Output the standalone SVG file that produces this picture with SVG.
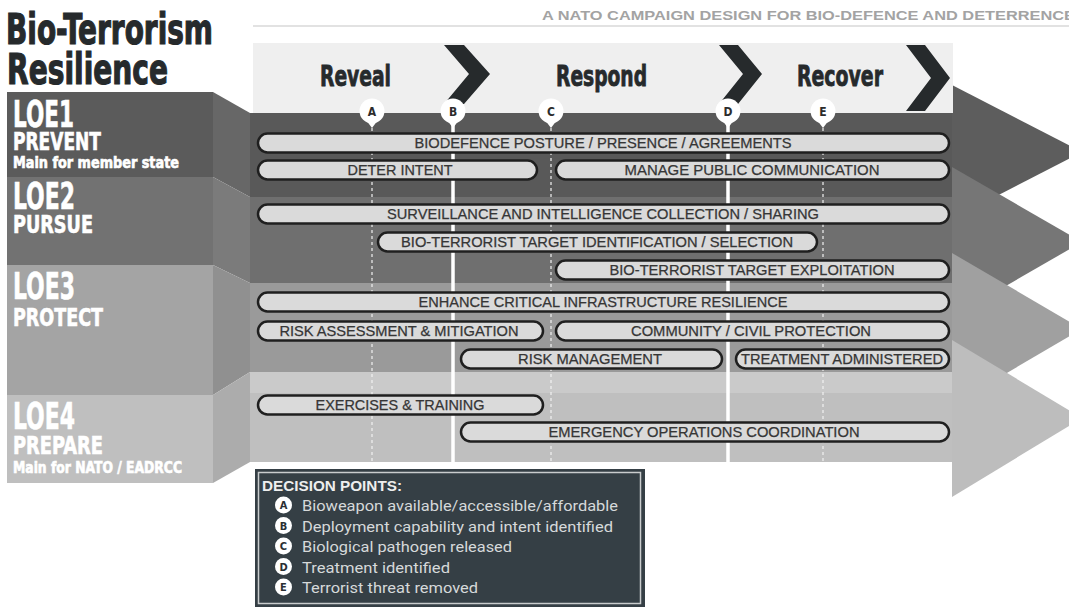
<svg xmlns="http://www.w3.org/2000/svg" width="1069" height="607" viewBox="0 0 1069 607">
<style>
.cond{font-family:"DejaVu Sans Condensed","DejaVu Sans",sans-serif;font-weight:bold;font-stretch:condensed}
.title{fill:#262a2c;stroke:#262a2c;stroke-width:1.2}
.ph{fill:#262a2c;stroke:#262a2c;stroke-width:0.8}
.loe{fill:#ffffff;stroke:#ffffff;stroke-width:0.6}
.pill rect{fill:#dadada;stroke:#1f1f1f;stroke-width:2.5}
.pill text{font-family:"Liberation Sans",Arial,sans-serif;font-size:14px;fill:#363636;stroke:#363636;stroke-width:0.25;text-anchor:middle}
.dp{fill:#ffffff}
.dpl{font-family:"DejaVu Sans Condensed","DejaVu Sans",sans-serif;font-weight:bold;font-size:12px;fill:#2c2c2c;text-anchor:middle}
.solid{stroke:#ffffff;stroke-width:3.5}
.dot{stroke:#f2f2f2;stroke-width:1.5;stroke-dasharray:3 3;opacity:0.8}
.item{font-family:Roboto,"Noto Sans",sans-serif;font-size:15px;fill:#d6d9da}
.badge circle{fill:#ffffff}
.badge text{font-family:"DejaVu Sans Condensed","DejaVu Sans",sans-serif;font-weight:bold;font-size:11px;fill:#2a2f33;text-anchor:middle}
</style>
<rect width="1069" height="607" fill="#ffffff"/>

<!-- header -->
<g id="header">
  <text x="542" y="20" font-family="'Liberation Sans',Arial,sans-serif" font-weight="bold" font-size="13.5" fill="#a3a3a3" textLength="533" lengthAdjust="spacingAndGlyphs">A NATO CAMPAIGN DESIGN FOR BIO-DEFENCE AND DETERRENCE</text>
  <line x1="253" y1="26" x2="1069" y2="26" stroke="#d8d8d8" stroke-width="1.5"/>
</g>

<g id="title">
  <text class="cond title" x="6" y="44" font-size="43" textLength="207" lengthAdjust="spacingAndGlyphs">Bio-Terrorism</text>
  <text class="cond title" x="7" y="84" font-size="43" textLength="161" lengthAdjust="spacingAndGlyphs">Resilience</text>
</g>

<!-- arrowheads on the right (upper ones behind) -->
<g id="arrowheads">
  <polygon points="952,85 1082,152 952,219" fill="#5d5d5d"/>
  <polygon points="952,167 1082,242 952,317" fill="#767676"/>
  <polygon points="952,253 1082,329 952,405" fill="#a0a0a0"/>
  <polygon points="952,340 1082,418 952,497" fill="#bdbdbd"/>
</g>

<!-- phase header band -->
<g id="phases">
  <rect x="253" y="43" width="700" height="70" fill="#efefef"/>
  <text class="cond ph" x="320" y="86" font-size="28" textLength="71" lengthAdjust="spacingAndGlyphs">Reveal</text>
  <text class="cond ph" x="556" y="86" font-size="28" textLength="91" lengthAdjust="spacingAndGlyphs">Respond</text>
  <text class="cond ph" x="797" y="86" font-size="28" textLength="86" lengthAdjust="spacingAndGlyphs">Recover</text>
  <polygon points="444,45 464,45 490,74 464,104 444,104 469,74" fill="#262a2c"/>
  <polygon points="719,45 738,45 762,74 738,104 719,104 743,74" fill="#262a2c"/>
  <polygon points="906,45 925,45 950,78 925,111 906,111 931,78" fill="#262a2c"/>
</g>

<!-- main panel rows -->
<g id="panel">
  <rect x="250" y="113" width="702" height="84" fill="#595959"/>
  <rect x="250" y="197" width="702" height="86" fill="#6f6f6f"/>
  <rect x="250" y="283" width="702" height="89" fill="#9a9a9a"/>
  <rect x="250" y="372" width="702" height="90" fill="#bfbfbf"/>
  <rect x="250" y="372" width="702" height="21" fill="#cacaca"/>
</g>

<!-- LOE label blocks -->
<g id="loe1">
  <rect x="7" y="92" width="206" height="85" fill="#5b5b5b"/>
  <polygon points="213,92 250,113 250,197 213,177" fill="#676767"/>
  <text class="cond loe" x="13" y="127" font-size="38" textLength="61" lengthAdjust="spacingAndGlyphs">LOE1</text>
  <text class="cond loe" x="13" y="150" font-size="24" textLength="88" lengthAdjust="spacingAndGlyphs">PREVENT</text>
  <text class="cond loe" x="13" y="168" font-size="15" textLength="166" lengthAdjust="spacingAndGlyphs">Main for member state</text>
</g>
<g id="loe2">
  <rect x="7" y="177" width="206" height="88" fill="#727272"/>
  <polygon points="213,177 250,197 250,283 213,265" fill="#7b7b7b"/>
  <text class="cond loe" x="13" y="209" font-size="38" textLength="62" lengthAdjust="spacingAndGlyphs">LOE2</text>
  <text class="cond loe" x="13" y="233" font-size="24" textLength="80" lengthAdjust="spacingAndGlyphs">PURSUE</text>
</g>
<g id="loe3">
  <rect x="7" y="265" width="206" height="130" fill="#a4a4a4"/>
  <polygon points="213,265 250,283 250,372 213,395" fill="#909090"/>
  <text class="cond loe" x="13" y="299" font-size="38" textLength="62" lengthAdjust="spacingAndGlyphs">LOE3</text>
  <text class="cond loe" x="13" y="326" font-size="24" textLength="90" lengthAdjust="spacingAndGlyphs">PROTECT</text>
</g>
<g id="loe4">
  <rect x="7" y="395" width="206" height="88" fill="#bfbfbf"/>
  <polygon points="213,395 250,372 250,462 213,483" fill="#acacac"/>
  <text class="cond loe" x="13" y="429" font-size="38" textLength="62" lengthAdjust="spacingAndGlyphs">LOE4</text>
  <text class="cond loe" x="13" y="454" font-size="24" textLength="90" lengthAdjust="spacingAndGlyphs">PREPARE</text>
  <text class="cond loe" x="13" y="473" font-size="15" textLength="169" lengthAdjust="spacingAndGlyphs">Main for NATO / EADRCC</text>
</g>

<!-- decision lines -->
<g id="connectors">
  <line class="dot" x1="372" y1="122" x2="372" y2="462"/>
  <line class="solid" x1="453" y1="122" x2="453" y2="462"/>
  <line class="dot" x1="551" y1="122" x2="551" y2="462"/>
  <line class="solid" x1="728" y1="122" x2="728" y2="462"/>
  <line class="dot" x1="823" y1="122" x2="823" y2="462"/>
</g>

<!-- decision point markers -->
<g id="marker-a"><circle class="dp" cx="372" cy="111" r="12.5"/><polygon class="dp" points="366,120 378,120 372,128"/><text class="dpl" x="372" y="115.5">A</text></g>
<g id="marker-b"><circle class="dp" cx="453" cy="111" r="12.5"/><polygon class="dp" points="447,120 459,120 453,128"/><text class="dpl" x="453" y="115.5">B</text></g>
<g id="marker-c"><circle class="dp" cx="551" cy="111" r="12.5"/><polygon class="dp" points="545,120 557,120 551,128"/><text class="dpl" x="551" y="115.5">C</text></g>
<g id="marker-d"><circle class="dp" cx="728" cy="111" r="12.5"/><polygon class="dp" points="722,120 734,120 728,128"/><text class="dpl" x="728" y="115.5">D</text></g>
<g id="marker-e"><circle class="dp" cx="823" cy="111" r="12.5"/><polygon class="dp" points="817,120 829,120 823,128"/><text class="dpl" x="823" y="115.5">E</text></g>

<!-- activity pills -->
<g id="p-biodefence" class="pill"><rect x="258" y="133.5" width="691" height="19" rx="9.5"/><text x="603" y="148" textLength="377" lengthAdjust="spacingAndGlyphs">BIODEFENCE POSTURE / PRESENCE / AGREEMENTS</text></g>
<g id="p-deter" class="pill"><rect x="258" y="160.5" width="279" height="19" rx="9.5"/><text x="400" y="175" textLength="105" lengthAdjust="spacingAndGlyphs">DETER INTENT</text></g>
<g id="p-manage" class="pill"><rect x="556" y="160.5" width="393" height="19" rx="9.5"/><text x="752" y="175" textLength="255" lengthAdjust="spacingAndGlyphs">MANAGE PUBLIC COMMUNICATION</text></g>
<g id="p-surveillance" class="pill"><rect x="258" y="204.5" width="691" height="19" rx="9.5"/><text x="603" y="219" textLength="432" lengthAdjust="spacingAndGlyphs">SURVEILLANCE AND INTELLIGENCE COLLECTION / SHARING</text></g>
<g id="p-target-id" class="pill"><rect x="378" y="232.5" width="439" height="19" rx="9.5"/><text x="597" y="247" textLength="392" lengthAdjust="spacingAndGlyphs">BIO-TERRORIST TARGET IDENTIFICATION / SELECTION</text></g>
<g id="p-exploitation" class="pill"><rect x="556" y="260.5" width="393" height="19" rx="9.5"/><text x="752" y="275" textLength="285" lengthAdjust="spacingAndGlyphs">BIO-TERRORIST TARGET EXPLOITATION</text></g>
<g id="p-enhance" class="pill"><rect x="258" y="292.5" width="691" height="19" rx="9.5"/><text x="603" y="307" textLength="369" lengthAdjust="spacingAndGlyphs">ENHANCE CRITICAL INFRASTRUCTURE RESILIENCE</text></g>
<g id="p-risk-assessment" class="pill"><rect x="258" y="321.5" width="285" height="19" rx="9.5"/><text x="399" y="336" textLength="239" lengthAdjust="spacingAndGlyphs">RISK ASSESSMENT &amp; MITIGATION</text></g>
<g id="p-community" class="pill"><rect x="556" y="321.5" width="393" height="19" rx="9.5"/><text x="751" y="336" textLength="240" lengthAdjust="spacingAndGlyphs">COMMUNITY / CIVIL PROTECTION</text></g>
<g id="p-risk-management" class="pill"><rect x="461" y="349.5" width="261" height="19" rx="9.5"/><text x="590" y="364" textLength="144" lengthAdjust="spacingAndGlyphs">RISK MANAGEMENT</text></g>
<g id="p-treatment" class="pill"><rect x="736" y="349.5" width="213" height="19" rx="9.5"/><text x="842" y="364" textLength="202" lengthAdjust="spacingAndGlyphs">TREATMENT ADMINISTERED</text></g>
<g id="p-exercises" class="pill"><rect x="258" y="395.5" width="285" height="19" rx="9.5"/><text x="400" y="410" textLength="169" lengthAdjust="spacingAndGlyphs">EXERCISES &amp; TRAINING</text></g>
<g id="p-emergency" class="pill"><rect x="461" y="422.5" width="488" height="19" rx="9.5"/><text x="704" y="437" textLength="311" lengthAdjust="spacingAndGlyphs">EMERGENCY OPERATIONS COORDINATION</text></g>

<!-- decision points legend -->
<g id="legend">
  <rect x="255" y="469" width="390" height="138" fill="#353f45"/>
  <rect x="258.5" y="472.5" width="382" height="131" fill="none" stroke="#c9cccd" stroke-width="1.5"/>
  <text x="262" y="491" font-family="'Liberation Sans',Arial,sans-serif" font-weight="bold" font-size="14" fill="#eeeeee" textLength="140" lengthAdjust="spacingAndGlyphs">DECISION POINTS:</text>
  <g class="badge"><circle cx="283.5" cy="505" r="8.5"/><text x="283.5" y="509">A</text></g>
  <text class="item" x="302" y="511" textLength="316" lengthAdjust="spacingAndGlyphs">Bioweapon available/accessible/affordable</text>
  <g class="badge"><circle cx="283.5" cy="525.5" r="8.5"/><text x="283.5" y="529.5">B</text></g>
  <text class="item" x="302" y="531.5" textLength="311" lengthAdjust="spacingAndGlyphs">Deployment capability and intent identified</text>
  <g class="badge"><circle cx="283.5" cy="546" r="8.5"/><text x="283.5" y="550">C</text></g>
  <text class="item" x="302" y="552" textLength="210" lengthAdjust="spacingAndGlyphs">Biological pathogen released</text>
  <g class="badge"><circle cx="283.5" cy="566.5" r="8.5"/><text x="283.5" y="570.5">D</text></g>
  <text class="item" x="302" y="572.5" textLength="148" lengthAdjust="spacingAndGlyphs">Treatment identified</text>
  <g class="badge"><circle cx="283.5" cy="587" r="8.5"/><text x="283.5" y="591">E</text></g>
  <text class="item" x="302" y="593" textLength="176" lengthAdjust="spacingAndGlyphs">Terrorist threat removed</text>
</g>
</svg>
